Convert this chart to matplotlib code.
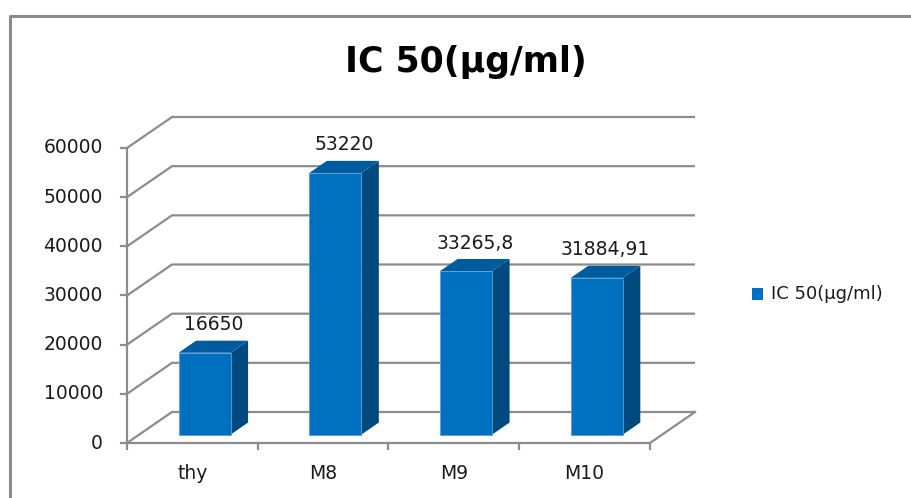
import matplotlib
matplotlib.use("Agg")
import matplotlib.pyplot as plt
from matplotlib.patches import Polygon, Rectangle

categories = ["thy", "M8", "M9", "M10"]
ic50_values = [16650, 53220, 33265.8, 31884.91]
y_ticks = [0, 10000, 20000, 30000, 40000, 50000, 60000]
title_text = "IC 50(µg/ml)"
series_name = "IC 50(µg/ml)"

FRONT = "#0070C0"
TOP = "#005C9F"
SIDE = "#004A80"
GRID = "#8C8C8C"
FONT = "DejaVu Sans"
TXT = 13.5

W, H = 912, 498
fig = plt.figure(figsize=(W / 100, H / 100), dpi=100)
ax = fig.add_axes([0, 0, 1, 1])

# pixel geometry of the front plane: category unit and value unit
x0_px, cat_px = 127.0, 130.75
y0_px, val_px = 443.0, 0.0049167
ax.set_xlim(-x0_px / cat_px, (W - x0_px) / cat_px)
ax.set_ylim(-(H - y0_px) / val_px, y0_px / val_px)
ax.axis("off")

# depth offset of the back wall (in data units)
DX = 45.0 / cat_px
DY = 31.0 / val_px
ncat = len(categories)


def off(d):
    return d * DX, d * DY


# gridlines: diagonal on the left wall, then along the back wall
for v in y_ticks:
    ax.plot([0, DX, ncat + DX], [v, v + DY, v + DY], color=GRID, lw=1.6,
            solid_capstyle="butt", zorder=1)
# floor outline
ax.plot([0, ncat, ncat + DX], [0, 0, DY], color=GRID, lw=1.6, zorder=1)
# value axis and tick marks
ax.plot([0, 0], [0, y_ticks[-1]], color=GRID, lw=1.6, zorder=1)
tick_dx = 6 / cat_px
for v in y_ticks:
    ax.plot([-tick_dx, 0], [v, v], color=GRID, lw=1.6, zorder=1)
    ax.text(-24 / cat_px, v, f"{v}", ha="right", va="center",
            fontsize=TXT, family=FONT, color="#1a1a1a")
tick_dy = 6 / val_px
for i in range(ncat + 1):
    ax.plot([i, i], [0, -tick_dy], color=GRID, lw=1.6, zorder=1)

# 3-D style columns
bar_w = 52.0 / cat_px
d_front, d_back = 0.27, 0.66
fx, fy = off(d_front)
bx, by = off(d_back)
for i, (cat, v) in enumerate(zip(categories, ic50_values)):
    left = i + 0.5 + fx - bar_w / 2
    right = left + bar_w
    base = fy
    top = base + v
    ddx, ddy = bx - fx, by - fy
    ax.add_patch(Polygon([(right, base), (right + ddx, base + ddy),
                          (right + ddx, top + ddy), (right, top)],
                         closed=True, facecolor=SIDE, edgecolor="none", zorder=3))
    ax.add_patch(Polygon([(left, top), (right, top), (right + ddx, top + ddy),
                          (left + ddx, top + ddy)],
                         closed=True, facecolor=TOP, edgecolor="none", zorder=3))
    ax.add_patch(Rectangle((left, base), bar_w, v, facecolor=FRONT,
                           edgecolor="#5a9fd6", lw=0.6, zorder=4))
    label = ("%.2f" % v).rstrip("0").rstrip(".").replace(".", ",")
    ax.annotate(label, xy=(i + 0.5 + (fx + bx) / 2, top + ddy / 2),
                xytext=(0, 9), textcoords="offset points",
                ha="center", va="bottom", fontsize=TXT, family=FONT,
                color="#1a1a1a", zorder=5)
    ax.text(i + 0.5, -30 / val_px, cat, ha="center", va="center",
            fontsize=TXT, family=FONT, color="#1a1a1a")

# title
fig.text(466 / W, 1 - 62 / H, title_text, ha="center", va="center",
         fontsize=25, fontweight="bold", family=FONT, color="black")

# legend
fig.patches.append(Rectangle((752 / W, 1 - 300 / H), 11 / W, 12 / H,
                             transform=fig.transFigure, facecolor=FRONT,
                             edgecolor="none"))
fig.text(771 / W, 1 - 294 / H, series_name, ha="left", va="center",
         fontsize=13, family=FONT, color="#1a1a1a")

# chart area border (top and left edges)
fig.lines.append(plt.Line2D([10 / W, 10 / W, 1], [0, 1 - 16 / H, 1 - 16 / H],
                            transform=fig.transFigure, color="#8a8a8a", lw=2.2))

fig.savefig("out.png", dpi=100, facecolor="white")
